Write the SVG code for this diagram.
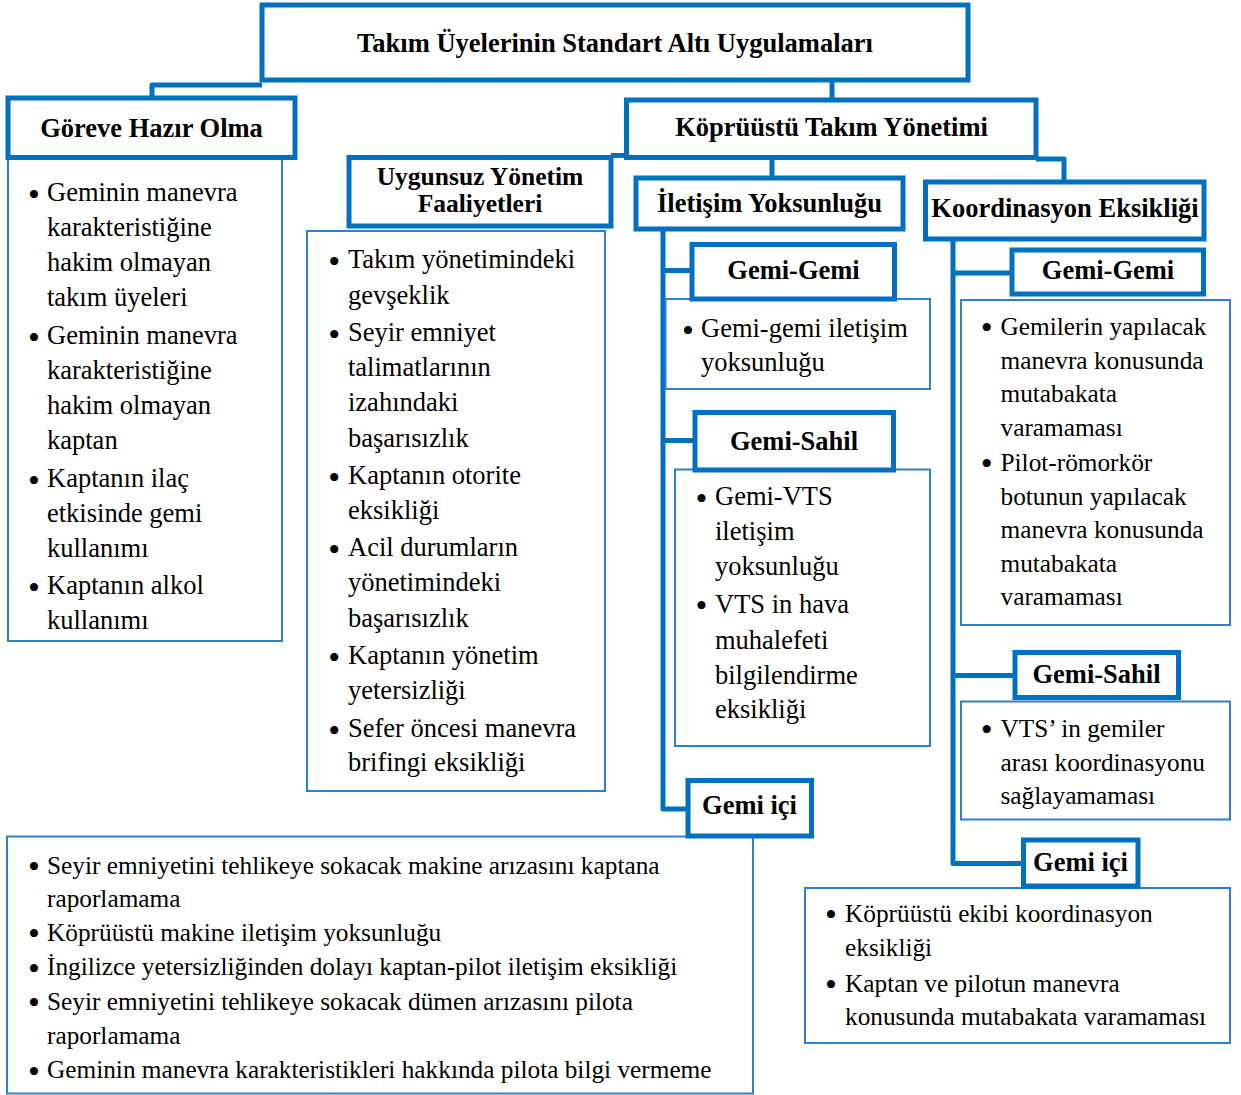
<svg xmlns="http://www.w3.org/2000/svg" width="1241" height="1095" viewBox="0 0 1241 1095">
  <style>
    .hdr { fill: #ffffff; stroke: #0070C0; stroke-width: 5; }
    .body { fill: #ffffff; stroke: #2F80C8; stroke-width: 2; }
    .wire { fill: none; stroke: #0070C0; stroke-width: 5; stroke-linejoin: round; }
    .h { font-family: "Liberation Serif", "Times New Roman", serif; font-weight: bold; font-size: 26.5px; fill: #000; text-anchor: middle; }
    .h2 { font-family: "Liberation Serif", "Times New Roman", serif; font-weight: bold; font-size: 25.5px; fill: #000; text-anchor: middle; }
    .t { font-family: "Liberation Serif", "Times New Roman", serif; font-size: 26.5px; fill: #000; }
    .s { font-family: "Liberation Serif", "Times New Roman", serif; font-size: 25.3px; fill: #000; }
    .b { font-family: "Liberation Serif", "Times New Roman", serif; font-size: 34px; fill: #000; text-anchor: middle; }
  </style>

  <!-- connectors -->
  <g id="connectors">
    <path class="wire" d="M262,85 H152 V98"/>
    <path class="wire" d="M832,80 V100"/>
    <path class="wire" d="M611,155.5 H627"/>
    <path class="wire" d="M772,157.5 V178"/>
    <path class="wire" d="M1036,159 H1064 V182"/>
    <path class="wire" d="M663,229 V809 H688"/>
    <path class="wire" d="M663,270.5 H692"/>
    <path class="wire" d="M663,440.5 H695"/>
    <path class="wire" d="M953,239 V863.5 H1023.5"/>
    <path class="wire" d="M953,273 H1012"/>
    <path class="wire" d="M953,675.5 H1015"/>
  </g>

  <!-- root -->
  <g id="root">
    <rect class="hdr" x="262" y="5" width="706" height="75"/>
    <text class="h" x="615" y="51.5">Takım Üyelerinin Standart Altı Uygulamaları</text>
  </g>

  <!-- Göreve Hazır Olma -->
  <g id="goreve">
    <rect class="body" x="8" y="158" width="274" height="483"/>
    <rect class="hdr" x="8" y="98" width="287" height="59.5"/>
    <text class="h" x="151.5" y="136.7">Göreve Hazır Olma</text>
    <g class="b">
      <text x="34" y="205.5">•</text>
      <text x="34" y="348.5">•</text>
      <text x="34" y="491.5">•</text>
      <text x="34" y="598.5">•</text>
    </g>
    <text class="t">
      <tspan x="47" y="201">Geminin manevra</tspan>
      <tspan x="47" y="236">karakteristiğine</tspan>
      <tspan x="47" y="271">hakim olmayan</tspan>
      <tspan x="47" y="306">takım üyeleri</tspan>
      <tspan x="47" y="344">Geminin manevra</tspan>
      <tspan x="47" y="379">karakteristiğine</tspan>
      <tspan x="47" y="414">hakim olmayan</tspan>
      <tspan x="47" y="449">kaptan</tspan>
      <tspan x="47" y="487">Kaptanın ilaç</tspan>
      <tspan x="47" y="522">etkisinde gemi</tspan>
      <tspan x="47" y="557">kullanımı</tspan>
      <tspan x="47" y="594">Kaptanın alkol</tspan>
      <tspan x="47" y="629">kullanımı</tspan>
    </text>
  </g>

  <!-- Uygunsuz Yönetim Faaliyetleri -->
  <g id="uygunsuz">
    <rect class="body" x="307" y="231" width="298" height="560"/>
    <rect class="hdr" x="349" y="157.5" width="262" height="68.5"/>
    <text class="h2" x="480" y="184.5">Uygunsuz Yönetim</text>
    <text class="h2" x="480" y="212">Faaliyetleri</text>
    <g class="b">
      <text x="334.3" y="272.5">•</text>
      <text x="334.3" y="345.5">•</text>
      <text x="334.3" y="488.5">•</text>
      <text x="334.3" y="560.5">•</text>
      <text x="334.3" y="668.5">•</text>
      <text x="334.3" y="741.5">•</text>
    </g>
    <text class="t">
      <tspan x="348" y="268">Takım yönetimindeki</tspan>
      <tspan x="348" y="304">gevşeklik</tspan>
      <tspan x="348" y="341">Seyir emniyet</tspan>
      <tspan x="348" y="376">talimatlarının</tspan>
      <tspan x="348" y="411">izahındaki</tspan>
      <tspan x="348" y="447">başarısızlık</tspan>
      <tspan x="348" y="484">Kaptanın otorite</tspan>
      <tspan x="348" y="519">eksikliği</tspan>
      <tspan x="348" y="556">Acil durumların</tspan>
      <tspan x="348" y="591">yönetimindeki</tspan>
      <tspan x="348" y="627">başarısızlık</tspan>
      <tspan x="348" y="664">Kaptanın yönetim</tspan>
      <tspan x="348" y="699">yetersizliği</tspan>
      <tspan x="348" y="737">Sefer öncesi manevra</tspan>
      <tspan x="348" y="771">brifingi eksikliği</tspan>
    </text>
  </g>

  <!-- Köprüüstü Takım Yönetimi -->
  <g id="kopruustu">
    <rect class="hdr" x="626.5" y="100" width="409.5" height="57.5"/>
    <text class="h" x="831.5" y="136">Köprüüstü Takım Yönetimi</text>
  </g>

  <!-- İletişim Yoksunluğu -->
  <g id="iletisim">
    <rect class="hdr" x="636" y="178" width="267" height="51"/>
    <text class="h" x="769.5" y="211.7">İletişim Yoksunluğu</text>
  </g>

  <g id="iletisim-gemi-gemi">
    <rect class="body" x="665.5" y="299" width="264.5" height="90"/>
    <rect class="hdr" x="692" y="244.5" width="202.5" height="54.5"/>
    <text class="h" x="793.5" y="279.3">Gemi-Gemi</text>
    <text class="b" x="688" y="341.5">•</text>
    <text class="t">
      <tspan x="701" y="337">Gemi-gemi iletişim</tspan>
      <tspan x="701" y="371">yoksunluğu</tspan>
    </text>
  </g>

  <g id="iletisim-gemi-sahil">
    <rect class="body" x="675" y="469.5" width="255" height="276.5"/>
    <rect class="hdr" x="695" y="412.5" width="198.5" height="57.5"/>
    <text class="h" x="794" y="450">Gemi-Sahil</text>
    <g class="b">
      <text x="701.4" y="509.5">•</text>
      <text x="701.4" y="617">•</text>
    </g>
    <text class="t">
      <tspan x="715" y="505">Gemi-VTS</tspan>
      <tspan x="715" y="540">iletişim</tspan>
      <tspan x="715" y="575">yoksunluğu</tspan>
      <tspan x="715" y="612.5">VTS in hava</tspan>
      <tspan x="715" y="649">muhalefeti</tspan>
      <tspan x="715" y="684">bilgilendirme</tspan>
      <tspan x="715" y="718">eksikliği</tspan>
    </text>
  </g>

  <g id="iletisim-gemi-ici">
    <rect class="body" x="7" y="836.5" width="746" height="257"/>
    <rect class="hdr" x="688" y="780.5" width="123.5" height="55.5"/>
    <text class="h" x="749.5" y="814.3">Gemi içi</text>
    <g class="b">
      <text x="34" y="877.5">•</text>
      <text x="34" y="945">•</text>
      <text x="34" y="979.5">•</text>
      <text x="34" y="1014">•</text>
      <text x="34" y="1082.5">•</text>
    </g>
    <text class="s">
      <tspan x="47" y="873.5">Seyir emniyetini tehlikeye sokacak makine arızasını kaptana</tspan>
      <tspan x="47" y="906.5">raporlamama</tspan>
      <tspan x="47" y="940.5">Köprüüstü makine iletişim yoksunluğu</tspan>
      <tspan x="47" y="975">İngilizce yetersizliğinden dolayı kaptan-pilot iletişim eksikliği</tspan>
      <tspan x="47" y="1009.5">Seyir emniyetini tehlikeye sokacak dümen arızasını pilota</tspan>
      <tspan x="47" y="1043.5">raporlamama</tspan>
      <tspan x="47" y="1078">Geminin manevra karakteristikleri hakkında pilota bilgi vermeme</tspan>
    </text>
  </g>

  <!-- Koordinasyon Eksikliği -->
  <g id="koordinasyon">
    <rect class="hdr" x="925.5" y="182" width="278.5" height="57"/>
    <text class="h" x="1065" y="217.3">Koordinasyon Eksikliği</text>
  </g>

  <g id="koordinasyon-gemi-gemi">
    <rect class="body" x="961" y="300" width="269" height="325"/>
    <rect class="hdr" x="1012" y="250" width="191.5" height="44"/>
    <text class="h" x="1108" y="279">Gemi-Gemi</text>
    <g class="b">
      <text x="986.7" y="339">•</text>
      <text x="986.7" y="475">•</text>
    </g>
    <text class="s">
      <tspan x="1000.5" y="335">Gemilerin yapılacak</tspan>
      <tspan x="1000.5" y="368.5">manevra konusunda</tspan>
      <tspan x="1000.5" y="402">mutabakata</tspan>
      <tspan x="1000.5" y="435.5">varamaması</tspan>
      <tspan x="1000.5" y="471">Pilot-römorkör</tspan>
      <tspan x="1000.5" y="504.5">botunun yapılacak</tspan>
      <tspan x="1000.5" y="538">manevra konusunda</tspan>
      <tspan x="1000.5" y="571.5">mutabakata</tspan>
      <tspan x="1000.5" y="605">varamaması</tspan>
    </text>
  </g>

  <g id="koordinasyon-gemi-sahil">
    <rect class="body" x="961" y="701.5" width="269" height="118"/>
    <rect class="hdr" x="1015" y="652.5" width="163.5" height="45"/>
    <text class="h" x="1096.5" y="682.7">Gemi-Sahil</text>
    <text class="b" x="986.7" y="741">•</text>
    <text class="s">
      <tspan x="1000.5" y="737">VTS’ in gemiler</tspan>
      <tspan x="1000.5" y="770.5">arası koordinasyonu</tspan>
      <tspan x="1000.5" y="804">sağlayamaması</tspan>
    </text>
  </g>

  <g id="koordinasyon-gemi-ici">
    <rect class="body" x="805" y="888" width="425" height="155"/>
    <rect class="hdr" x="1023.5" y="840" width="114.5" height="46"/>
    <text class="h" x="1080.5" y="870.7">Gemi içi</text>
    <g class="b">
      <text x="831" y="926">•</text>
      <text x="831" y="996">•</text>
    </g>
    <text class="s">
      <tspan x="845" y="922">Köprüüstü ekibi koordinasyon</tspan>
      <tspan x="845" y="955.5">eksikliği</tspan>
      <tspan x="845" y="992">Kaptan ve pilotun manevra</tspan>
      <tspan x="845" y="1024.5">konusunda mutabakata varamaması</tspan>
    </text>
  </g>
</svg>
